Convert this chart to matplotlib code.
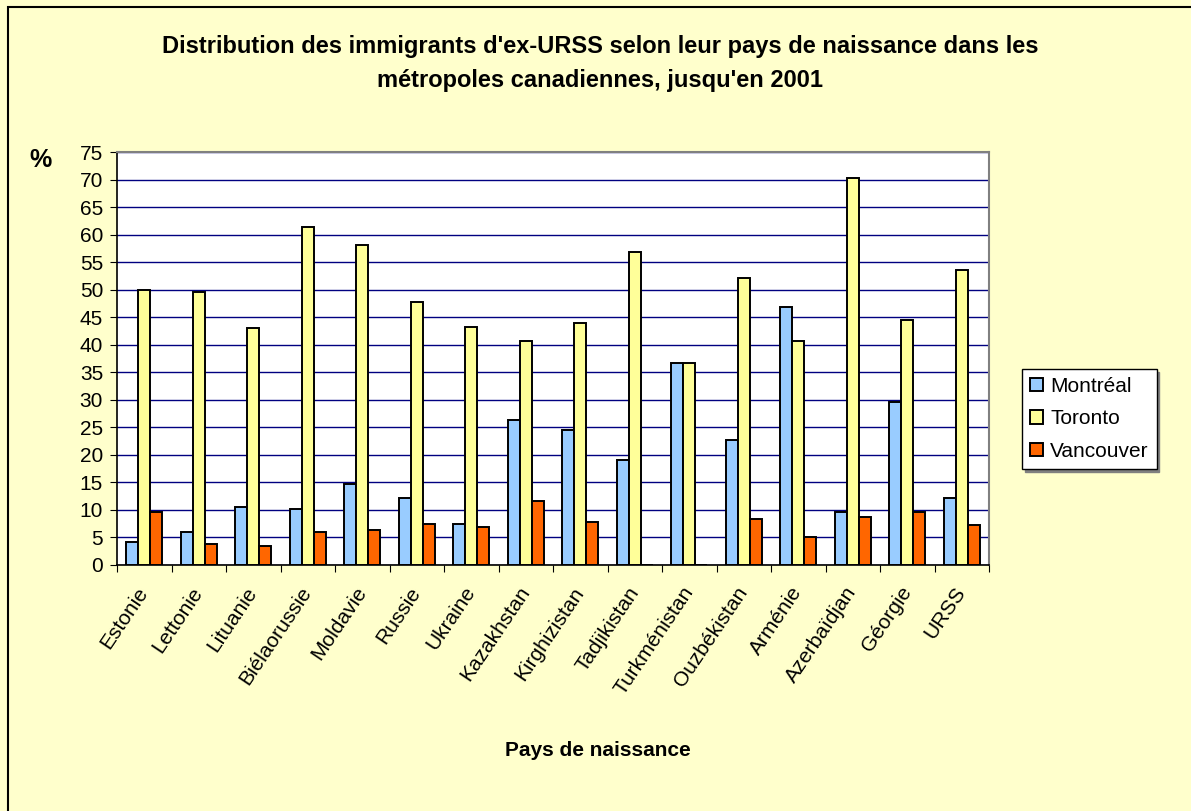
import numpy as np
import matplotlib
matplotlib.use("Agg")
from matplotlib import pyplot as plt
from matplotlib.patches import Rectangle

plt.rcParams['font.family'] = ['Liberation Sans', 'DejaVu Sans']

pays = ["Estonie", "Lettonie", "Lituanie", "Biélaorussie", "Moldavie", "Russie",
        "Ukraine", "Kazakhstan", "Kirghizistan", "Tadjikistan", "Turkménistan",
        "Ouzbékistan", "Arménie", "Azerbaïdjan", "Géorgie", "URSS"]
montreal = [4.2, 6.0, 10.5, 10.2, 14.8, 12.1, 7.5, 26.3, 24.5, 19.0, 36.6, 22.7, 46.9, 9.6, 29.6, 12.1]
toronto = [50.0, 49.5, 43.0, 61.3, 58.2, 47.8, 43.3, 40.7, 43.9, 56.9, 36.6, 52.1, 40.7, 70.3, 44.5, 53.6]
vancouver = [9.6, 3.9, 3.4, 6.0, 6.3, 7.5, 6.9, 11.7, 7.8, 0.0, 0.0, 8.4, 5.1, 8.7, 9.6, 7.2]
villes = ["Montréal", "Toronto", "Vancouver"]
couleurs = ["#99CCFF", "#FFFF99", "#FF6600"]

W, H = 1191, 811
fig = plt.figure(figsize=(W / 100, H / 100), dpi=100, facecolor="#FFFFCC")

# chart frame (only left/top edges fall inside the image)
fig.patches.append(Rectangle((8 / W, -0.1), 1.2, 1.1 - 7 / H, transform=fig.transFigure,
                             fill=False, edgecolor="black", lw=1.5, zorder=0))

ax = fig.add_axes([117 / W, 1 - 565 / H, (989 - 117) / W, (565 - 152) / H])
ax.set_facecolor("white")

x = np.arange(len(pays))
w = 0.222
for i, (vals, nom, c) in enumerate(zip([montreal, toronto, vancouver], villes, couleurs)):
    ax.bar(x + (i - 1) * w, vals, width=w, color=c, edgecolor="black", lw=1.4,
           label=nom, zorder=3)

ax.set_xlim(-0.5, len(pays) - 0.5)
ax.set_ylim(0, 75)
ax.set_yticks(np.arange(0, 76, 5))
ax.yaxis.grid(True, color="#000080", lw=1)
ax.set_axisbelow(True)

ax.set_xticks(np.arange(-0.5, len(pays), 1))
ax.set_xticklabels([])
ax.set_xticks(x, minor=True)
ax.set_xticklabels(pays, minor=True, rotation=56, ha="right", va="center",
                   rotation_mode="anchor", fontsize=15)
ax.tick_params(axis="x", which="minor", length=0, pad=17)
ax.tick_params(axis="x", which="major", length=5, direction="out", color="black")
ax.tick_params(axis="y", length=5, direction="out", labelsize=15, pad=5)

for s in ["top", "right"]:
    ax.spines[s].set_color("#808080")
    ax.spines[s].set_linewidth(1.5)
for s in ["left", "bottom"]:
    ax.spines[s].set_color("black")
    ax.spines[s].set_linewidth(1.2)

fig.text(600 / W, 1 - 47 / H,
         "Distribution des immigrants d'ex-URSS selon leur pays de naissance dans les",
         ha="center", va="center", fontsize=17, fontweight="bold")
fig.text(600 / W, 1 - 80 / H, "métropoles canadiennes, jusqu'en 2001",
         ha="center", va="center", fontsize=17, fontweight="bold")
fig.text(40 / W, 1 - 160 / H, "%", ha="center", va="center", fontsize=18, fontweight="bold")
fig.text(598 / W, 1 - 750 / H, "Pays de naissance", ha="center", va="center",
         fontsize=15, fontweight="bold")

leg = fig.legend(loc="upper left", bbox_to_anchor=(1022 / W, 1 - 369 / H), borderaxespad=0,
                 fontsize=15, handlelength=0.62, handleheight=0.62, handletextpad=0.35,
                 labelspacing=0.65, borderpad=0.38, fancybox=False, framealpha=1,
                 edgecolor="black",
                 shadow={"color": "#808080", "alpha": 1, "ox": 2, "oy": -2})
leg.get_frame().set_linewidth(1)

fig.savefig("out.png", dpi=100, facecolor=fig.get_facecolor())
